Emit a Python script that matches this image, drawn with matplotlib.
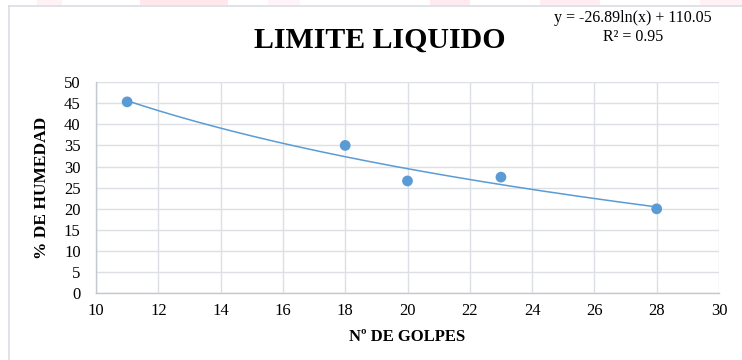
import numpy as np
import matplotlib
matplotlib.use("Agg")
import matplotlib.pyplot as plt
from matplotlib.patches import Rectangle
from matplotlib.lines import Line2D

# Data
golpes = [11, 18, 20, 23, 28]
humedad = [45.3, 35.0, 26.6, 27.5, 20.0]
coef_a = -26.89
coef_b = 110.05
r2 = 0.95
x_ticks = [10, 12, 14, 16, 18, 20, 22, 24, 26, 28, 30]
y_ticks = [0, 5, 10, 15, 20, 25, 30, 35, 40, 45, 50]
title = "LIMITE LIQUIDO"
xlabel = "Nº DE GOLPES"
ylabel = "% DE HUMEDAD"

plt.rcParams['font.family'] = ['Liberation Serif', 'DejaVu Serif']

W, H = 742, 360
fig = plt.figure(figsize=(W / 100, H / 100), dpi=100)
fig.patch.set_facecolor('white')

# pink watermark fragments at top
for x0, x1, a in [(37, 62, 0.4), (140, 228, 0.7), (268, 300, 0.3), (430, 470, 0.6),
                  (540, 600, 0.5), (700, 742, 0.4)]:
    fig.add_artist(Rectangle((x0 / W, 1 - 5 / H), (x1 - x0) / W, 5 / H,
                             transform=fig.transFigure, facecolor='#ffdde5',
                             alpha=a, edgecolor='none', zorder=0))

# chart frame
fig.add_artist(Line2D([8.5 / W, 1], [1 - 5.5 / H, 1 - 5.5 / H], transform=fig.transFigure,
                      color='#d9dde3', lw=1.2))
fig.add_artist(Line2D([8.5 / W, 8.5 / W], [0, 1 - 5.5 / H], transform=fig.transFigure,
                      color='#d9dde3', lw=1.2))

ax = fig.add_axes([96 / W, 1 - 293.4 / H, (719 - 96) / W, (293.4 - 82) / H])
ax.set_xlim(10, 30)
ax.set_ylim(0, 50)
ax.set_xticks(x_ticks)
ax.set_yticks(y_ticks)
ax.grid(True, color='#dcdfe4', lw=1)
ax.set_axisbelow(True)
for s in ['top', 'right']:
    ax.spines[s].set_visible(False)
for s in ['left', 'bottom']:
    ax.spines[s].set_color('#c3c8d0')
    ax.spines[s].set_linewidth(1)
ax.tick_params(length=0, labelsize=12, colors='black')
ax.tick_params(axis='y', pad=11)
ax.tick_params(axis='x', pad=7)

xs = np.linspace(min(golpes), max(golpes), 200)
ax.plot(xs, coef_a * np.log(xs) + coef_b, color='#5B9BD5', lw=1.1, zorder=2)
ax.scatter(golpes, humedad, s=60, color='#5B9BD5', zorder=3, edgecolor='none')

ax.set_xlabel(xlabel, fontsize=12, fontweight='bold', labelpad=7)
ax.set_ylabel(ylabel, fontsize=12.5, fontweight='bold', labelpad=10)

fig.text(380 / W, 1 - 40 / H, title, fontsize=21.5, fontweight='bold', ha='center', va='center')
fig.text(633 / W, 1 - 18 / H, f"y = {coef_a}ln(x) + {coef_b}", fontsize=11.5,
         ha='center', va='center')
fig.text(633 / W, 1 - 37 / H, f"R² = {r2}", fontsize=11.5, ha='center', va='center')

fig.savefig('out.png', dpi=100, facecolor='white')
